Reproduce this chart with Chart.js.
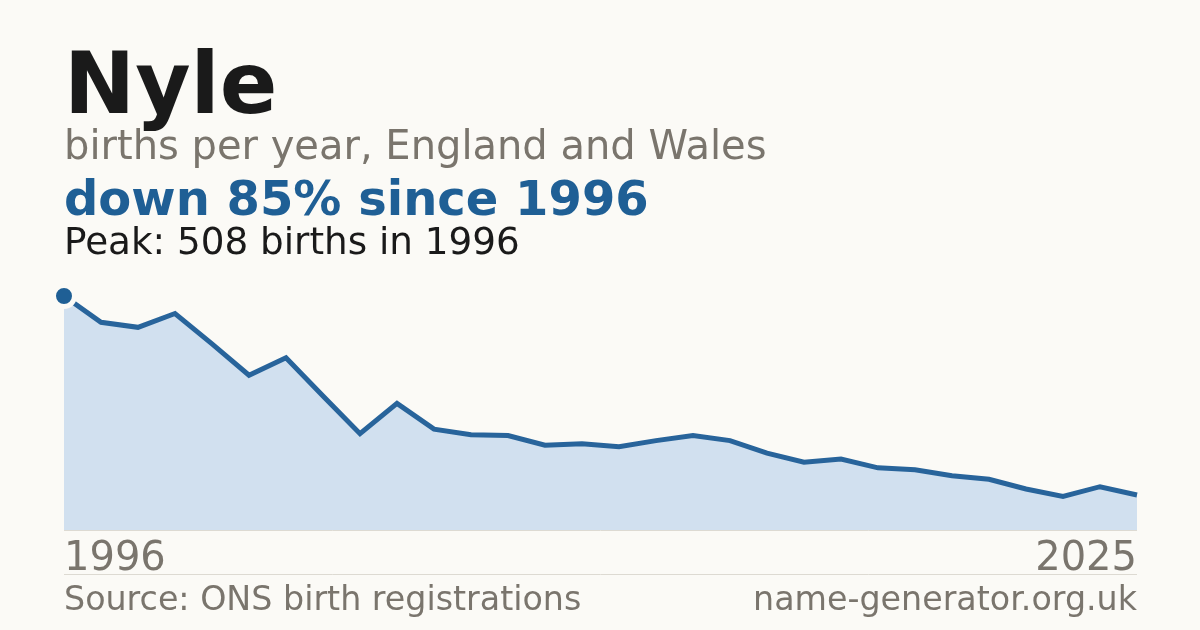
<!DOCTYPE html>
<html>
<head>
<meta charset="utf-8">
<script src="https://cdn.jsdelivr.net/npm/chart.js@4/dist/chart.umd.min.js"></script>
<style>
  html, body { margin: 0; padding: 0; background: #fbfaf6; }
  #wrap { position: relative; width: 1200px; height: 630px; overflow: hidden; }
  canvas { display: block; }
</style>
</head>
<body>
<div id="wrap"><canvas id="c" width="1200" height="630"></canvas></div>
<script>
// ---- data ----
const years = [1996,1997,1998,1999,2000,2001,2002,2003,2004,2005,2006,2007,2008,2009,2010,
               2011,2012,2013,2014,2015,2016,2017,2018,2019,2020,2021,2022,2023,2024,2025];
const births = [508,451,440,470,404,336,374,291,209,275,219,207,205,184,187,
                181,194,205,194,167,147,154,135,131,118,110,89,73,94,76];
const tickLabels = ["1996", "2025"];
const titleText = "Nyle";
const subtitleText = "births per year, England and Wales";
const changeText = "down 85% since 1996";
const peakText = "Peak: 508 births in 1996";
const sourceText = "Source: ONS birth registrations";
const siteText = "name-generator.org.uk";

const BG = "#fbfaf6";
const FONT = "'DejaVu Sans', sans-serif";

const textPlugin = {
  id: "textPlugin",
  beforeDraw(chart) {
    const ctx = chart.ctx;
    ctx.save();
    ctx.fillStyle = BG;
    ctx.fillRect(0, 0, chart.width, chart.height);
    ctx.restore();
  },
  afterDraw(chart) {
    const ctx = chart.ctx;
    const area = chart.chartArea;
    const xs = chart.scales.x;
    ctx.save();
    ctx.textBaseline = "alphabetic";
    ctx.textAlign = "left";
    ctx.fillStyle = "#1a1a1a";
    ctx.font = "bold 85px " + FONT;
    ctx.fillText(titleText, 64, 113);
    ctx.fillStyle = "#7a756d";
    ctx.font = "40px " + FONT;
    ctx.fillText(subtitleText, 64, 159);
    ctx.fillStyle = "#1f5f95";
    ctx.font = "bold 48px " + FONT;
    ctx.fillText(changeText, 64, 215);
    ctx.fillStyle = "#1a1a1a";
    ctx.font = "37.3px " + FONT;
    ctx.fillText(peakText, 64, 254);

    // baseline
    ctx.strokeStyle = "#dddad2";
    ctx.lineWidth = 1;
    ctx.beginPath();
    ctx.moveTo(area.left, area.bottom + 0.5);
    ctx.lineTo(area.right, area.bottom + 0.5);
    ctx.stroke();

    // tick labels
    ctx.fillStyle = "#7a756d";
    ctx.font = "40px " + FONT;
    ctx.textAlign = "left";
    ctx.fillText(tickLabels[0], xs.getPixelForValue(0), 570);
    ctx.textAlign = "right";
    ctx.fillText(tickLabels[1], xs.getPixelForValue(years.length - 1), 570);

    // separator
    ctx.strokeStyle = "#dddad2";
    ctx.beginPath();
    ctx.moveTo(area.left, 574.5);
    ctx.lineTo(area.right, 574.5);
    ctx.stroke();

    ctx.font = "33.3px " + FONT;
    ctx.textAlign = "left";
    ctx.fillText(sourceText, 64, 610);
    ctx.textAlign = "right";
    ctx.fillText(siteText, area.right, 610);
    ctx.restore();
  }
};

new Chart(document.getElementById("c"), {
  type: "line",
  data: {
    labels: years.map(String),
    datasets: [{
      data: births,
      borderColor: "#28649b",
      borderWidth: 5,
      backgroundColor: "#d1e0ef",
      fill: "origin",
      tension: 0,
      clip: false,
      pointRadius: ctx => ctx.dataIndex === 0 ? 10.5 : 0,
      pointHoverRadius: 0,
      pointBackgroundColor: "#1f5f95",
      pointBorderColor: BG,
      pointBorderWidth: 5
    }]
  },
  options: {
    responsive: false,
    animation: false,
    devicePixelRatio: 1,
    events: [],
    layout: { padding: { left: 64, right: 63, top: 296, bottom: 100 } },
    plugins: { legend: { display: false }, tooltip: { enabled: false } },
    scales: {
      x: { display: false, offset: false },
      y: { display: false, min: 0, max: 508 }
    }
  },
  plugins: [textPlugin]
});
</script>
</body>
</html>
